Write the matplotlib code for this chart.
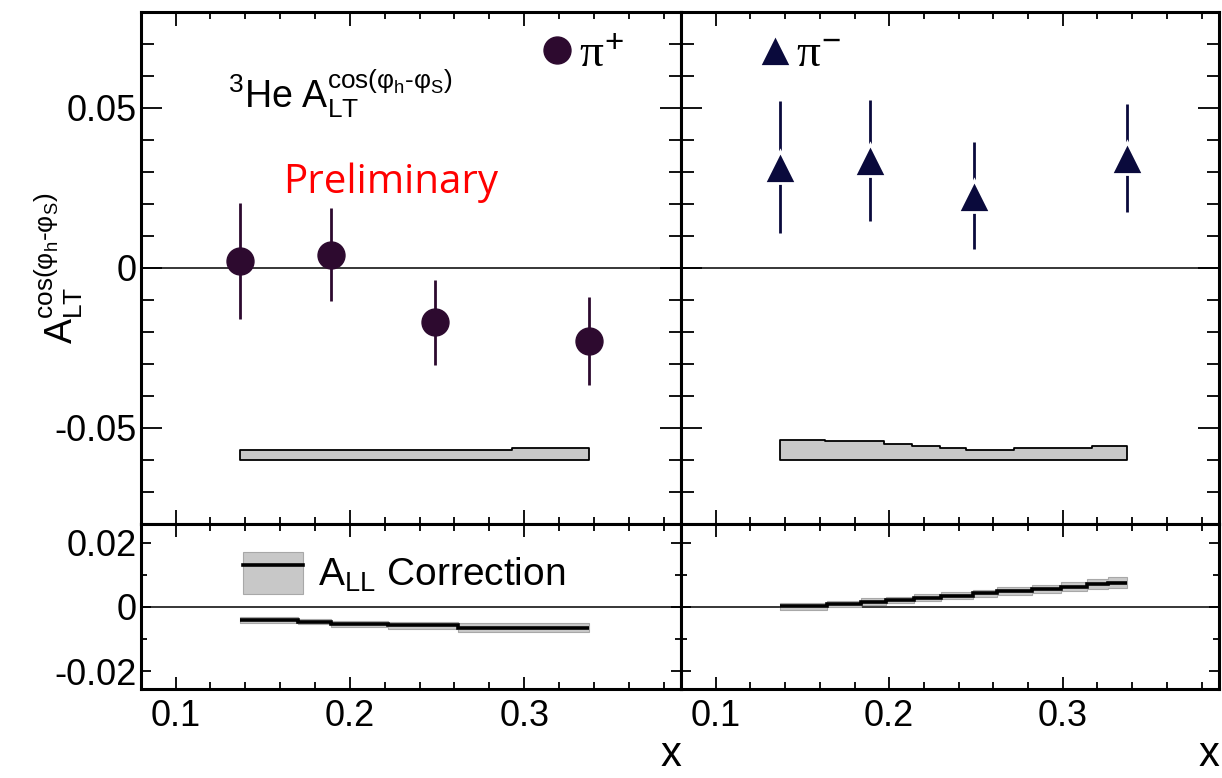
import numpy as np
import matplotlib
matplotlib.use('Agg')
import matplotlib.pyplot as plt
from matplotlib.ticker import MultipleLocator, FuncFormatter

plt.rcParams['font.family'] = 'Liberation Sans'
plt.rcParams['mathtext.fontset'] = 'custom'
plt.rcParams['mathtext.rm'] = 'Liberation Sans'
plt.rcParams['mathtext.sf'] = 'Liberation Sans'
plt.rcParams['mathtext.it'] = 'Liberation Serif'

# x bins
x_bins = [0.137, 0.189, 0.249, 0.337]

# pi+ and pi- asymmetries with stat. errors
pip_asym = [0.0023, 0.0042, -0.0170, -0.0229]
pip_err = [0.0181, 0.0146, 0.0133, 0.0137]
pim_asym = [0.0315, 0.0336, 0.0226, 0.0344]
pim_err = [0.0207, 0.0188, 0.0167, 0.0169]

# systematic bands (drawn from a common base)
sys_base = -0.060
pip_sys_edges = [0.137, 0.293, 0.337]
pip_sys_top = [-0.0568, -0.0562]
pim_sys_edges = [0.137, 0.163, 0.197, 0.213, 0.229, 0.244, 0.272, 0.317, 0.337]
pim_sys_top = [-0.0538, -0.0542, -0.0550, -0.0556, -0.0563, -0.0569, -0.0563, -0.0556]

# A_LL correction and its band
pip_corr_edges = [0.137, 0.170, 0.189, 0.222, 0.262, 0.337]
pip_corr = [-0.0040, -0.0046, -0.0052, -0.0058, -0.0065]
pip_corr_hi = [-0.0033, -0.0037, -0.0043, -0.0047, -0.0049]
pip_corr_lo = [-0.0050, -0.0055, -0.0062, -0.0070, -0.0078]
pim_corr_edges = [0.137, 0.164, 0.184, 0.198, 0.214, 0.230, 0.248, 0.262, 0.282,
                  0.299, 0.314, 0.326, 0.337]
pim_corr = [0.0001, 0.0009, 0.0016, 0.0022, 0.0029, 0.0035, 0.0042, 0.0049, 0.0056,
            0.0063, 0.0070, 0.0075]
pim_corr_hi = [0.0011, 0.0019, 0.0026, 0.0032, 0.0039, 0.0046, 0.0053, 0.0061, 0.0069,
               0.0077, 0.0086, 0.0092]
pim_corr_lo = [-0.0009, -0.0001, 0.0006, 0.0012, 0.0019, 0.0025, 0.0031, 0.0037, 0.0043,
               0.0049, 0.0055, 0.0059]

col_pip = '#2d0a2f'
col_pim = '#0a0a3c'
col_band = '#c8c8c8'

fig = plt.figure(figsize=(12.22, 7.78), dpi=100)
x0, xm, x1 = 0.1151, 0.5573, 0.9975
yb, ym, yt = 0.1144, 0.3265, 0.9846
ax_tl = fig.add_axes([x0, ym, xm - x0, yt - ym])
ax_tr = fig.add_axes([xm, ym, x1 - xm, yt - ym])
ax_bl = fig.add_axes([x0, yb, xm - x0, ym - yb])
ax_br = fig.add_axes([xm, yb, x1 - xm, ym - yb])

fmt = FuncFormatter(lambda v, _: '0' if abs(v) < 1e-9 else '%g' % v)

for ax in (ax_tl, ax_tr, ax_bl, ax_br):
    ax.set_xlim(0.08, 0.39)
    ax.xaxis.set_major_locator(MultipleLocator(0.1))
    ax.xaxis.set_minor_locator(MultipleLocator(0.02))
    ax.xaxis.set_major_formatter(FuncFormatter(lambda v, _: '%g' % v))
    ax.yaxis.set_major_formatter(fmt)
    for s in ax.spines.values():
        s.set_linewidth(2.2)
    ax.tick_params(which='both', direction='in', top=True, right=True, width=1.3,
                   labelsize=26)
    ax.tick_params(axis='x', which='both', pad=7)
    ax.tick_params(axis='y', which='both', pad=3)
    ax.axhline(0, color='black', lw=1.1, zorder=1)

for ax in (ax_tl, ax_tr):
    ax.set_ylim(-0.08, 0.08)
    ax.yaxis.set_major_locator(MultipleLocator(0.05))
    ax.yaxis.set_minor_locator(MultipleLocator(0.01))
    ax.tick_params(axis='y', which='major', length=15)
    ax.tick_params(axis='y', which='minor', length=9)
    ax.tick_params(axis='x', which='major', length=10)
    ax.tick_params(axis='x', which='minor', length=5)
    ax.tick_params(labelbottom=False)

for ax in (ax_bl, ax_br):
    ax.set_ylim(-0.0256, 0.0258)
    ax.yaxis.set_major_locator(MultipleLocator(0.02))
    ax.yaxis.set_minor_locator(MultipleLocator(0.01))
    ax.tick_params(axis='y', which='major', length=7)
    ax.tick_params(axis='y', which='minor', length=4)
    ax.tick_params(axis='x', which='major', length=9)
    ax.tick_params(axis='x', which='minor', length=5)
    ax.set_xlabel('x', loc='right', fontsize=30, labelpad=1)

ax_tr.tick_params(labelleft=False)
ax_br.tick_params(labelleft=False)

# top panels: asymmetries
eb_p = ax_tl.errorbar(x_bins, pip_asym, yerr=pip_err, fmt='o', ms=19.4, color=col_pip,
                      elinewidth=2.0, capsize=0, zorder=4)
eb_m = ax_tr.errorbar(x_bins, pim_asym, yerr=pim_err, fmt='^', ms=23, color=col_pim,
                      mec='white', mew=2.0, elinewidth=2.0, capsize=0, zorder=4)

# systematic bands with a closed outline
for ax, edges, top in ((ax_tl, pip_sys_edges, pip_sys_top),
                       (ax_tr, pim_sys_edges, pim_sys_top)):
    ax.fill_between(edges, sys_base, list(top) + [top[-1]], step='post',
                    facecolor=col_band, edgecolor='black', lw=1.3, zorder=2)

# bottom panels: A_LL correction
band_l = ax_bl.stairs(pip_corr_hi, pip_corr_edges, baseline=pip_corr_lo, fill=True,
                      facecolor=col_band, edgecolor='#a8a8a8', lw=0.8, zorder=2)
line_l = ax_bl.stairs(pip_corr, pip_corr_edges, baseline=None, color='black', lw=2.6,
                      zorder=3)
ax_br.stairs(pim_corr_hi, pim_corr_edges, baseline=pim_corr_lo, fill=True,
             facecolor=col_band, edgecolor='#a8a8a8', lw=0.8, zorder=2)
ax_br.stairs(pim_corr, pim_corr_edges, baseline=None, color='black', lw=2.6, zorder=3)

# labels and legends
asym_tex = r'A_{LT}^{cos(\varphi_{h}\text{-}\varphi_{S})}'
ax_tl.set_ylabel(r'$\mathrm{' + asym_tex + '}$', fontsize=27)
ax_tl.yaxis.set_label_coords(-0.103, 0.5)

ax_tl.text(0.162, 0.814, r'$\mathrm{^{3}He\ ' + asym_tex + '}$',
           transform=ax_tl.transAxes, fontsize=27, ha='left', va='baseline')
ax_tl.text(0.263, 0.646, 'Preliminary', color='red', fontsize=29, family='Open Sans',
           transform=ax_tl.transAxes, ha='left', va='baseline')

ax_tl.legend([eb_p[0]], [r'$\pi^{+}$'], loc='center left', bbox_to_anchor=(0.745, 0.916),
             frameon=False, borderpad=0, borderaxespad=0, handlelength=0.6,
             handletextpad=0.15, fontsize=34)
ax_tr.legend([eb_m[0]], [r'$\pi^{-}$'], loc='center left', bbox_to_anchor=(0.148, 0.916),
             frameon=False, borderpad=0, borderaxespad=0, handlelength=0.6,
             handletextpad=0.15, fontsize=34)
ax_bl.legend([(band_l, line_l)], [r'$\mathrm{A_{LL}}$ Correction'], loc='center left',
             bbox_to_anchor=(0.189, 0.703), frameon=False, borderpad=0, borderaxespad=0,
             handlelength=1.55, handleheight=1.3, handletextpad=0.38, fontsize=28)

fig.savefig('out.png', dpi=100)
